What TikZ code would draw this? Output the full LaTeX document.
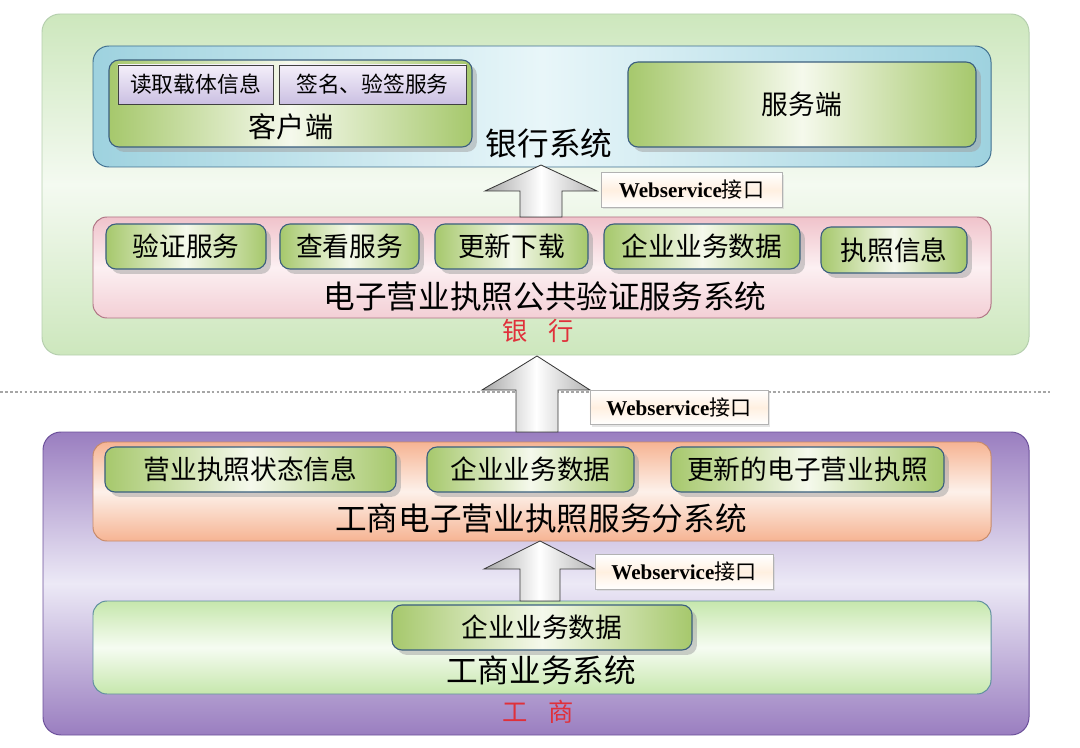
\documentclass[tikz,border=0pt]{standalone}
\usepackage{fontspec}
\setmainfont{Noto Sans CJK SC}
\newfontfamily\wsfont{Liberation Serif}
\usepackage{tikz}
\usetikzlibrary{positioning,fit,shadows}

\definecolor{bankA}{HTML}{CDE7BD}
\definecolor{bankB}{HTML}{F4FAF1}
\definecolor{bankline}{HTML}{B5CFAE}
\definecolor{sysA}{HTML}{9ED2DF}
\definecolor{sysB}{HTML}{E8F6F9}
\definecolor{sysline}{HTML}{3F6F8F}
\definecolor{btnA}{HTML}{A6C86C}
\definecolor{btnB}{HTML}{F5F9EC}
\definecolor{btnline}{HTML}{3B5F7F}
\definecolor{lavA}{HTML}{F4EFFA}
\definecolor{lavB}{HTML}{CBC0E2}
\definecolor{pinkA}{HTML}{F0C3CB}
\definecolor{pinkB}{HTML}{FCF0F2}
\definecolor{pinkline}{HTML}{B07585}
\definecolor{purA}{HTML}{9A7EC0}
\definecolor{purB}{HTML}{ECE9F6}
\definecolor{purline}{HTML}{6B4F9A}
\definecolor{peachA}{HTML}{F6B493}
\definecolor{peachB}{HTML}{FDF1EA}
\definecolor{peachline}{HTML}{C78A6A}
\definecolor{lgA}{HTML}{C6E7AC}
\definecolor{lgB}{HTML}{F6FCF2}
\definecolor{lgline}{HTML}{5F8F9F}
\definecolor{redtext}{HTML}{E0303A}

\begin{document}
\begin{tikzpicture}[x=0.025cm,y=-0.025cm,
    every node/.style={inner sep=0pt},
    zone/.style={draw=#1,line width=0.7pt,rounded corners=0.45cm},
    bankzone/.style={zone=bankline,top color=bankA,bottom color=bankA,middle color=bankB},
    syszone/.style={zone=sysline,rounded corners=0.4cm,left color=sysA,right color=sysA,middle color=sysB},
    pinkzone/.style={zone=pinkline,rounded corners=0.35cm,top color=pinkA,bottom color=pinkA!80,middle color=pinkB},
    purzone/.style={zone=purline,top color=purA,bottom color=purA,middle color=purB},
    peachzone/.style={zone=peachline,rounded corners=0.35cm,top color=peachA,bottom color=peachA,middle color=peachB},
    lgzone/.style={zone=lgline,rounded corners=0.35cm,top color=lgA,bottom color=lgA,middle color=lgB},
    btn/.style={draw=btnline,line width=0.8pt,rounded corners=0.25cm,
        left color=btnA,right color=btnA,middle color=btnB,
        drop shadow={shadow xshift=3.5pt,shadow yshift=-3.5pt,fill=gray!75},
        minimum height=1.125cm,font=\fontsize{19}{22}\selectfont},
    lav/.style={draw=gray!50!black,line width=0.5pt,top color=lavA,bottom color=lavB,
        minimum height=0.975cm,font=\fontsize{15.5}{18}\selectfont},
    wslabel/.style={draw=gray!60,line width=0.5pt,top color=white,bottom color=white,middle color=orange!12,
        drop shadow={shadow xshift=1.5pt,shadow yshift=-1.5pt,fill=gray!40},
        minimum width=4.45cm,minimum height=0.86cm,font=\fontsize{15}{18}\selectfont},
    uparrow/.style={draw=gray!45!black,line width=0.6pt,left color=gray!70,right color=gray!60,middle color=white},
    bigtxt/.style={font=\fontsize{22.5}{26}\selectfont},
    redtxt/.style={font=\fontsize{18}{22}\selectfont,text=redtext}
  ]
  \useasboundingbox (0,0) rectangle (1080,748);

  % bank side
  \node[bankzone,fit={(42,14) (1029,355)}] (bank) {};
  \node[syszone,fit={(93,46) (991,167)}] (banksys) {};
  \node[btn,fit={(109,60) (472,147)}] (client) {};
  \node[lav,minimum width=3.875cm] (readinfo) at (195.5,84.5) {读取载体信息};
  \node[lav,minimum width=4.675cm] (sign) at (372.5,84.5) {签名、验签服务};
  \node[font=\fontsize{20}{24}\selectfont] (clientT) at (291,127) {客户端};
  \node[btn,minimum width=8.7cm,minimum height=2.125cm] (server) at (802,104.5) {服务端};
  \node[bigtxt] (banksysT) at (549,143) {银行系统};

  \node[pinkzone,fit={(93,217) (991,318)}] (pub) {};
  \node[btn,minimum width=4cm] (verify) at (186,246.5) {验证服务};
  \node[btn,minimum width=3.475cm] (view) at (349.5,246.5) {查看服务};
  \node[btn,minimum width=3.825cm] (update) at (511.5,246.5) {更新下载};
  \node[btn,minimum width=4.9cm] (bizdata) at (702,246.5) {企业业务数据};
  \node[btn,minimum width=3.65cm,minimum height=1.15cm] (licinfo) at (894,250) {执照信息};
  \node[bigtxt] (pubT) at (545,296) {电子营业执照公共验证服务系统};
  \node[redtxt] (bankT) at (538,331) {银\hspace{0.8em}行};

  % separator
  \draw[gray!70,line width=0.8pt,dash pattern=on 2pt off 1.5pt] (0,392) -- (1050,392);

  % aic side
  \node[purzone,fit={(43,432) (1029,735)}] (aic) {};
  \node[peachzone,fit={(93,442) (991,541)}] (sub) {};
  \node[btn,minimum width=7.275cm] (status) at (250.5,469.5) {营业执照状态信息};
  \node[btn,minimum width=5.175cm] (subdata) at (530.5,469.5) {企业业务数据};
  \node[btn,minimum width=6.825cm] (newlic) at (807.5,469.5) {更新的电子营业执照};
  \node[bigtxt] (subT) at (541,518) {工商电子营业执照服务分系统};

  \node[lgzone,fit={(93,601) (991,694)}] (biz) {};
  \node[btn,minimum width=7.5cm] (bizsrc) at (542,627.5) {企业业务数据};
  \node[bigtxt] (bizT) at (541,670) {工商业务系统};
  \node[redtxt] (aicT) at (538,712) {工\hspace{0.8em}商};

  % interfaces
  \draw[uparrow] (520,217) -- (520,191) -- (485,191) -- (541,165)
    -- (597,191) -- (562,191) -- (562,217) -- cycle;
  \node[wslabel,minimum width=4.525cm] (ws1) at (691.5,190) {{\wsfont\bfseries Webservice}接口};

  \draw[uparrow] (516,432) -- (516,390) -- (482,390) -- (537,356)
    -- (590,390) -- (558,390) -- (558,432) -- cycle;
  \node[wslabel] (ws2) at (679,407.5) {{\wsfont\bfseries Webservice}接口};

  \draw[uparrow] (520,601) -- (520,569) -- (484,569) -- (540,541)
    -- (595,569) -- (560,569) -- (560,601) -- cycle;
  \node[wslabel] (ws3) at (684,572) {{\wsfont\bfseries Webservice}接口};
\end{tikzpicture}
\end{document}
